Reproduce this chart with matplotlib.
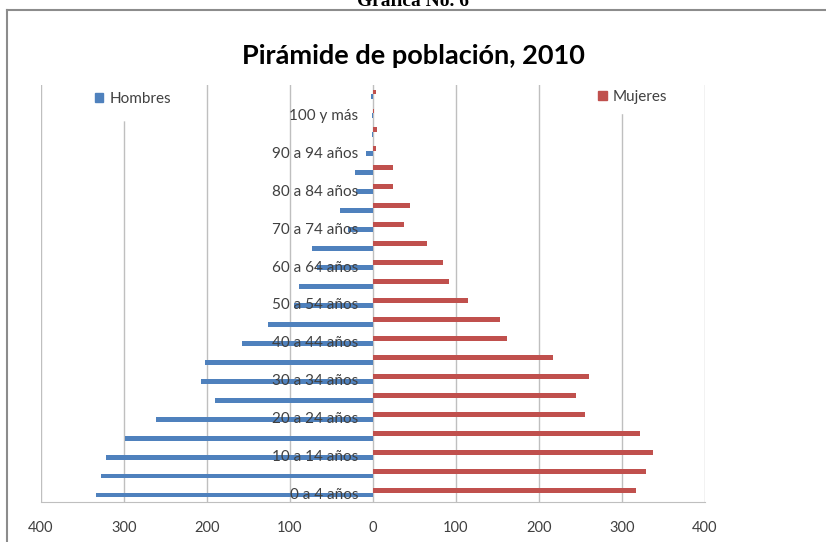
import matplotlib
matplotlib.use("Agg")
import matplotlib.pyplot as plt
from matplotlib.lines import Line2D
from matplotlib.patches import Patch

plt.rcParams['font.family'] = ['Lato', 'DejaVu Sans']

# age groups, bottom to top (only every other label is printed on the chart)
categories = ['0 a 4 años', '5 a 9 años', '10 a 14 años', '15 a 19 años',
              '20 a 24 años', '25 a 29 años', '30 a 34 años', '35 a 39 años',
              '40 a 44 años', '45 a 49 años', '50 a 54 años', '55 a 59 años',
              '60 a 64 años', '65 a 69 años', '70 a 74 años', '75 a 79 años',
              '80 a 84 años', '85 a 89 años', '90 a 94 años', '95 a 99 años',
              '100 y más', 'No especificado']
hombres = [334, 328, 322, 299, 261, 190, 207, 202, 158, 126, 95, 89,
           68, 73, 30, 40, 20, 22, 8, 1, 1, 2]
mujeres = [317, 329, 337, 322, 255, 244, 260, 217, 161, 153, 114, 92,
           84, 65, 37, 45, 24, 24, 4, 5, 1, 4]
xticks = [-400, -300, -200, -100, 0, 100, 200, 300, 400]

blue = '#4F81BD'
red = '#C0504D'
grid_c = '#BFBFBF'
text_c = '#404040'

W, H = 826, 542
fig = plt.figure(figsize=(W / 100, H / 100), dpi=100)
ax = fig.add_axes([41 / W, 1 - 502 / H, (705 - 41) / W, (502 - 85) / H])

pos = list(range(len(categories)))
off = 0.13
ax.barh([p - off for p in pos], [-v for v in hombres], height=0.26,
        color=blue, zorder=3)
ax.barh([p + off for p in pos], mujeres, height=0.26, color=red, zorder=3)

# category labels sit inside the plot, right-aligned just left of zero
for p, name in zip(pos, categories):
    if p % 2 == 0:
        ax.text(-18, p - off, name, ha='right', va='center', fontsize=11,
                color=text_c, zorder=4)

ax.set_xlim(-400, 400)
ax.set_ylim(-0.5, len(categories) - 0.5)
ax.set_xticks(xticks)
ax.set_xticklabels([str(abs(t)) for t in xticks], fontsize=10.5, color=text_c)
ax.tick_params(axis='x', length=0, pad=14)
ax.set_yticks([])
for t in xticks:
    ax.axvline(t, color=grid_c, lw=1, zorder=1)
for s in ['top', 'right', 'left']:
    ax.spines[s].set_visible(False)
ax.spines['bottom'].set_color(grid_c)

leg1 = fig.legend(handles=[Patch(color=blue, label='Hombres')],
                  loc='center', bbox_to_anchor=(133 / W, 1 - 99 / H),
                  frameon=True, framealpha=1, edgecolor='white',
                  fontsize=11, handlelength=0.55, handleheight=0.55,
                  handletextpad=0.4, borderpad=0.9)
for t in leg1.get_texts():
    t.set_color(text_c)
leg2 = fig.legend(handles=[Patch(color=red, label='Mujeres')],
                  loc='center', bbox_to_anchor=(633 / W, 1 - 97 / H),
                  frameon=True, framealpha=1, edgecolor='white',
                  fontsize=11, handlelength=0.55, handleheight=0.55,
                  handletextpad=0.4, borderpad=0.6)
for t in leg2.get_texts():
    t.set_color(text_c)
fig.add_artist(leg1)

fig.text(0.5, 1 - 56 / H, 'Pirámide de población, 2010', ha='center',
         va='center', fontsize=19.5, fontweight='bold', color='black')

# caption above the chart, mostly cut off by the image top
fig.text(0.5, 1 - 6 / H, 'Gráfica No. 6', ha='center', va='baseline',
         fontsize=14, fontweight='bold', family='Liberation Serif')

# outer frame of the embedded chart
fig.add_artist(Line2D([7 / W, 1], [1 - 10 / H, 1 - 10 / H],
                      color='#8C8C8C', lw=1.5))
fig.add_artist(Line2D([7 / W, 7 / W], [0, 1 - 10 / H],
                      color='#8C8C8C', lw=1.5))

fig.savefig('out.png', dpi=100)
